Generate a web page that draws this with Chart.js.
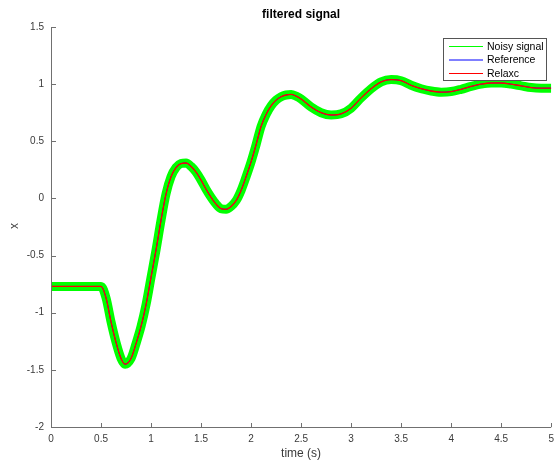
<!DOCTYPE html>
<html>
<head>
<meta charset="utf-8">
<script src="https://cdn.jsdelivr.net/npm/chart.js@4.4.0/dist/chart.umd.min.js"></script>
<style>
  html, body { margin: 0; padding: 0; background: #fff; }
  canvas { display: block; }
</style>
</head>
<body>
<canvas id="myChart" width="560" height="462"></canvas>
<script>
// time axis (s) and the signal
const timeS = [0, 0.5, 0.55, 0.6, 0.65, 0.7, 0.74, 0.8, 0.85, 0.9, 0.95, 1.0, 1.05, 1.1, 1.15, 1.2, 1.25, 1.3, 1.35,
  1.4, 1.45, 1.5, 1.55, 1.6, 1.65, 1.7, 1.75, 1.8, 1.85, 1.9, 1.95, 2.0, 2.05, 2.1, 2.15, 2.2, 2.25, 2.3, 2.35,
  2.4, 2.45, 2.5, 2.6, 2.7, 2.8, 2.9, 3.0, 3.1, 3.2, 3.3, 3.4, 3.5, 3.6, 3.7, 3.8, 3.9, 4.0, 4.1, 4.2, 4.3, 4.4,
  4.5, 4.6, 4.7, 4.8, 4.9, 5.0]
const reference = [-0.77, -0.77, -0.87, -1.08, -1.26, -1.40, -1.45, -1.40, -1.27, -1.12, -0.93, -0.69, -0.45, -0.19, 0.04, 0.19, 0.27, 0.305, 0.31,
  0.28, 0.23, 0.16, 0.08, 0.01, -0.05, -0.09, -0.095, -0.07, -0.02, 0.07, 0.19, 0.32, 0.47, 0.63, 0.735, 0.81, 0.86, 0.89, 0.905,
  0.91, 0.895, 0.87, 0.80, 0.75, 0.73, 0.74, 0.79, 0.88, 0.96, 1.02, 1.04, 1.03, 0.99, 0.96, 0.94, 0.93, 0.935, 0.955, 0.98, 1.0, 1.01,
  1.01, 1.0, 0.985, 0.97, 0.965, 0.965]
// the filtered and noisy traces sit on the reference at this scale
const relaxc = reference
const noisySignal = reference

const seriesNames = ["Noisy signal", "Reference", "Relaxc"]
const seriesColors = ["#00ff00", "#0000ff", "#ff0000"]
const xTicks = [0, 0.5, 1, 1.5, 2, 2.5, 3, 3.5, 4, 4.5, 5]
const yTicks = [-2, -1.5, -1, -0.5, 0, 0.5, 1, 1.5]

const axisColor = "#707070"
const textColor = "#3a3a3a"
const fontName = "'Liberation Sans', Arial, sans-serif"

const toPoints = (vals) => timeS.map((t, i) => ({ x: t, y: vals[i] }))

const matlabLook = {
  id: 'matlabLook',
  afterDraw(chart) {
    const { ctx, chartArea: a, scales: { x, y } } = chart
    ctx.save()
    // axes and inward ticks
    ctx.strokeStyle = axisColor
    ctx.lineWidth = 1
    ctx.beginPath()
    ctx.moveTo(a.left + 0.5, a.top)
    ctx.lineTo(a.left + 0.5, a.bottom + 0.5)
    ctx.lineTo(a.right, a.bottom + 0.5)
    xTicks.forEach(v => {
      const px = Math.round(x.getPixelForValue(v)) + 0.5
      ctx.moveTo(px, a.bottom)
      ctx.lineTo(px, a.bottom - 4)
    })
    yTicks.forEach(v => {
      const py = Math.round(y.getPixelForValue(v)) + 0.5
      ctx.moveTo(a.left, py)
      ctx.lineTo(a.left + 5, py)
    })
    ctx.stroke()

    // title and axis labels
    ctx.fillStyle = "#000"
    ctx.textAlign = "center"
    ctx.textBaseline = "middle"
    ctx.font = "bold 12px " + fontName
    ctx.fillText("filtered signal", (a.left + a.right) / 2, 15)
    ctx.fillStyle = textColor
    ctx.font = "12px " + fontName
    ctx.fillText("time (s)", (a.left + a.right) / 2, 454)
    ctx.save()
    ctx.translate(15, 226)
    ctx.rotate(-Math.PI / 2)
    ctx.fillText("x", 0, 0)
    ctx.restore()

    // legend box
    const bx = 443.5, by = 38.5, bw = 103, bh = 42
    ctx.fillStyle = "#fff"
    ctx.fillRect(bx, by, bw, bh)
    ctx.strokeStyle = "#555"
    ctx.strokeRect(bx, by, bw, bh)
    ctx.font = "10.5px " + fontName
    ctx.textAlign = "left"
    seriesNames.forEach((name, i) => {
      const ry = 46 + i * 13.5
      ctx.strokeStyle = seriesColors[i]
      ctx.beginPath()
      ctx.moveTo(449, ry + 0.5)
      ctx.lineTo(483, ry + 0.5)
      ctx.stroke()
      ctx.fillStyle = "#000"
      ctx.fillText(name, 487, ry + 1)
    })
    ctx.restore()
  }
}

new Chart(document.getElementById('myChart'), {
  type: 'line',
  data: {
    datasets: [
      { label: seriesNames[0], data: toPoints(noisySignal), borderColor: seriesColors[0], borderWidth: 9, order: 3 },
      { label: seriesNames[1], data: toPoints(reference), borderColor: seriesColors[1], borderWidth: 1, order: 2 },
      { label: seriesNames[2], data: toPoints(relaxc), borderColor: seriesColors[2], borderWidth: 1.3, order: 1 },
    ]
  },
  options: {
    responsive: false,
    animation: false,
    devicePixelRatio: 1,
    layout: { padding: { left: 0, top: 27, right: 5, bottom: 0 } },
    elements: {
      point: { radius: 0 },
      line: { cubicInterpolationMode: 'monotone', borderJoinStyle: 'round', fill: false }
    },
    plugins: { legend: { display: false }, title: { display: false }, tooltip: { enabled: false } },
    scales: {
      x: {
        type: 'linear', min: 0, max: 5,
        afterBuildTicks: s => { s.ticks = xTicks.map(v => ({ value: v })) },
        afterFit: s => { s.height = 35 },
        grid: { display: false, drawTicks: false },
        border: { display: false },
        ticks: { color: textColor, font: { family: fontName, size: 10 }, padding: 6, maxRotation: 0, callback: v => String(v) }
      },
      y: {
        type: 'linear', min: -2, max: 1.5,
        afterBuildTicks: s => { s.ticks = yTicks.map(v => ({ value: v })) },
        afterFit: s => { s.width = 51 },
        grid: { display: false, drawTicks: false },
        border: { display: false },
        ticks: { color: textColor, font: { family: fontName, size: 10 }, padding: 7, callback: v => String(v) }
      }
    }
  },
  plugins: [matlabLook]
})
</script>
</body>
</html>
